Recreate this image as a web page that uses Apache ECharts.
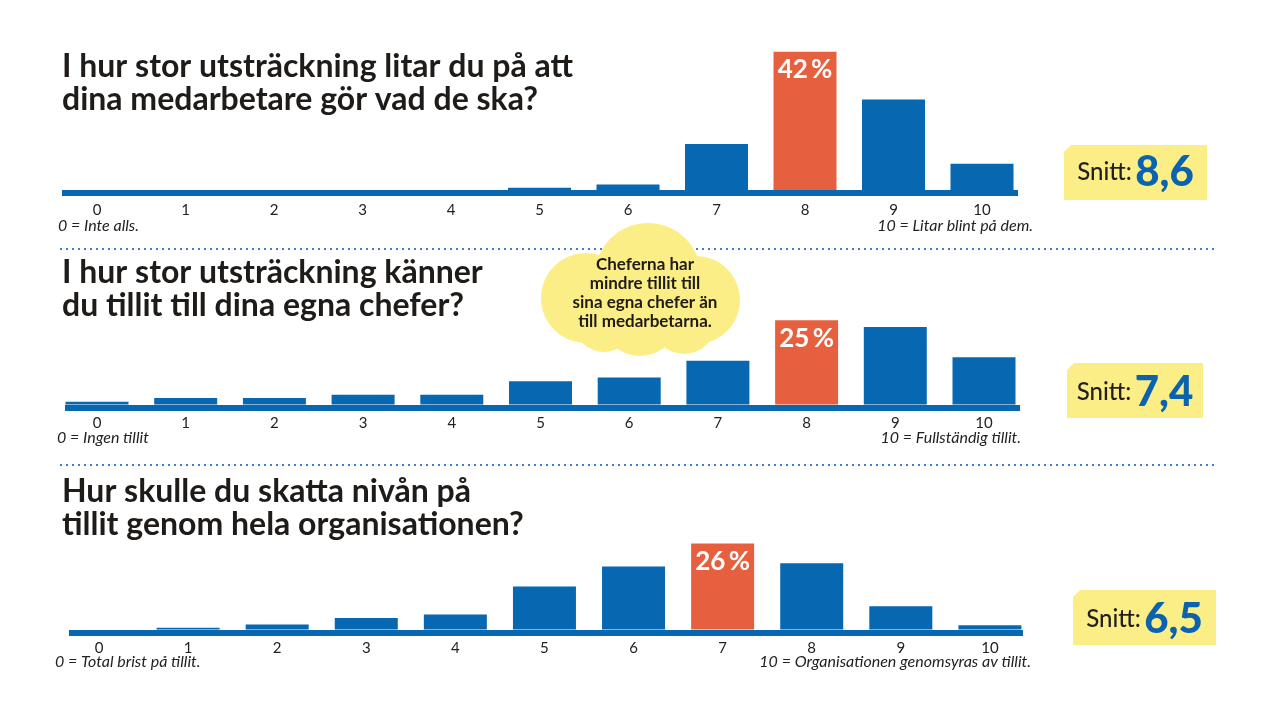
<!DOCTYPE html>
<html><head><meta charset="utf-8">
<script src="https://cdn.jsdelivr.net/npm/echarts@6/dist/echarts.min.js"></script>
<style>html,body{margin:0;padding:0;background:#fff}#c{width:1280px;height:720px}</style>
</head><body><div id="c"></div>
<script>
// ---- data ----
const categories = ['0','1','2','3','4','5','6','7','8','9','10'];
const q1Values = [0, 0, 0, 0, 0, 0.7, 1.7, 14, 42, 27.5, 8];
const q2Values = [0.8, 1.9, 1.9, 2.9, 2.9, 6.9, 8, 13, 25, 23, 14];
const q3Values = [0, 0.5, 1.5, 3.5, 4.5, 13, 19, 26, 20, 7, 1.3];
const highlightIndex = [8, 8, 7];
const titles = [
  'I hur stor utsträckning litar du på att\ndina medarbetare gör vad de ska?',
  'I hur stor utsträckning känner\ndu tillit till dina egna chefer?',
  'Hur skulle du skatta nivån på\ntillit genom hela organisationen?'
];
const lowLabels = ['0 = Inte alls.', '0 = Ingen tillit', '0 = Total brist på tillit.'];
const highLabels = ['10 = Litar blint på dem.', '10 = Fullständig tillit.', '10 = Organisationen genomsyras av tillit.'];
const averages = ['8,6', '7,4', '6,5'];
const averageLabel = 'Snitt:';
const cloudText = 'Cheferna har\nmindre tillit till\nsina egna chefer än\ntill medarbetarna.';

// ---- style / layout ----
const BLUE = '#0767b1', ORANGE = '#e6603f', YELLOW = '#fcee86', DARK = '#1e1b18';
const BODY_FONT = "Lato, 'Open Sans', sans-serif";
const allValues = [q1Values, q2Values, q3Values];
const layout = [
  {yMax:50, left:52.75, width:973.5, top:25.5, bottom:190, bandLeft:62, bandRight:1018, labelMargin:13, titleTop:50, subY:228, subLeft:58, subRight:1033, box:[1064,145,1207,200], avgY:172},
  {yMax:30, left:52.65, width:975.7, top:303.4, bottom:404.5, bandLeft:65, bandRight:1020, labelMargin:11.5, titleTop:256.5, subY:440, subLeft:57, subRight:1021, box:[1067,363,1203,418], avgY:392},
  {yMax:30, left:54.45, width:980, top:530.2, bottom:629.5, bandLeft:69, bandRight:1023, labelMargin:11.5, titleTop:475.5, subY:664, subLeft:55, subRight:1031, box:[1073,590,1216,645], avgY:619}
];

const grid = [], xAxis = [], yAxis = [], series = [], graphic = [];
layout.forEach((L, k) => {
  const h = L.bottom - L.top;
  // bar grid
  grid.push({left:L.left, top:L.top, width:L.width, height:h});
  xAxis.push({type:'category', gridIndex:grid.length-1, data:categories,
    axisLine:{show:false}, axisTick:{show:false},
    axisLabel:{margin:L.labelMargin, fontSize:15, color:'#222', fontFamily:BODY_FONT}});
  yAxis.push({type:'value', gridIndex:grid.length-1, min:0, max:L.yMax, show:false});
  const hi = highlightIndex[k];
  series.push({type:'bar', xAxisIndex:xAxis.length-1, yAxisIndex:yAxis.length-1, barWidth:63, z:3,
    data: allValues[k].map((v,i)=>({value:v, itemStyle:{color:i===hi?ORANGE:BLUE},
      label:{show:i===hi}})),
    label:{position:'insideTop', distance:5, color:'#fff', fontSize:26, fontWeight:'bold', fontFamily:BODY_FONT,
      formatter:p=>p.value+'\u2009%'}
  });
  // band grid (baseline strip)
  grid.push({left:L.bandLeft, top:L.top, width:L.bandRight-L.bandLeft, height:h});
  xAxis.push({type:'value', gridIndex:grid.length-1, min:0, max:1, offset:3,
    axisLine:{show:true, onZero:false, lineStyle:{color:BLUE, width:6, cap:'butt'}},
    axisTick:{show:false}, axisLabel:{show:false}, splitLine:{show:false}});
  yAxis.push({type:'value', gridIndex:grid.length-1, min:0, max:1, show:false});

  graphic.push({type:'text', x:62, y:L.titleTop,
    style:{text:titles[k], fontSize:32, fontWeight:'bold', lineHeight:33, fill:DARK, fontFamily:BODY_FONT}});

  graphic.push({type:'text', left:L.subLeft, top:L.subY-10,
    style:{text:lowLabels[k], fontSize:16, fontStyle:'italic', fill:'#222', fontFamily:BODY_FONT}});
  graphic.push({type:'text', right:1280-L.subRight, top:L.subY-10,
    style:{text:highLabels[k], fontSize:16, fontStyle:'italic', fill:'#222', fontFamily:BODY_FONT}});

  const [x0,y0,x1,y1] = L.box;
  graphic.push({type:'polygon', shape:{points:[[x0+7,y0],[x1,y0],[x1,y1],[x0,y1],[x0,y0+7]]}, style:{fill:YELLOW}});
  graphic.push({type:'text', x:(x0+x1)/2, y:L.avgY,
    style:{text:'{a|'+averageLabel+'} {b|'+averages[k]+'}', align:'center', verticalAlign:'middle',
      rich:{a:{fontSize:24, fill:'#231f20', fontFamily:BODY_FONT, fontWeight:500},
            b:{fontSize:42, fill:'#0b63b0', fontFamily:BODY_FONT, fontWeight:900}}}});
});

// dotted separators
[249, 465].forEach(y => graphic.push({type:'line', shape:{x1:60, y1:y, x2:1216, y2:y},
  style:{stroke:'#3f80c8', lineWidth:2, lineDash:[2,4]}}));

// cloud
graphic.push({type:'ellipse', shape:{cx:642, cy:298, rx:92, ry:48}, style:{fill:YELLOW}, z:10});
[[648,276,53],[586,298,45],[696,300,44],[640,316,40],[604,322,30],[684,322,32]].forEach(c =>
  graphic.push({type:'circle', shape:{cx:c[0], cy:c[1], r:c[2]}, style:{fill:YELLOW}, z:10}));
graphic.push({type:'text', x:645, y:293, z:11,
  style:{text:cloudText, align:'center', verticalAlign:'middle', fontSize:17, fontWeight:'bold',
    lineHeight:19, fill:DARK, fontFamily:BODY_FONT}});

const chart = echarts.init(document.getElementById('c'));
chart.setOption({animation:false, backgroundColor:'#fff', grid, xAxis, yAxis, series, graphic});
</script>
</body></html>
